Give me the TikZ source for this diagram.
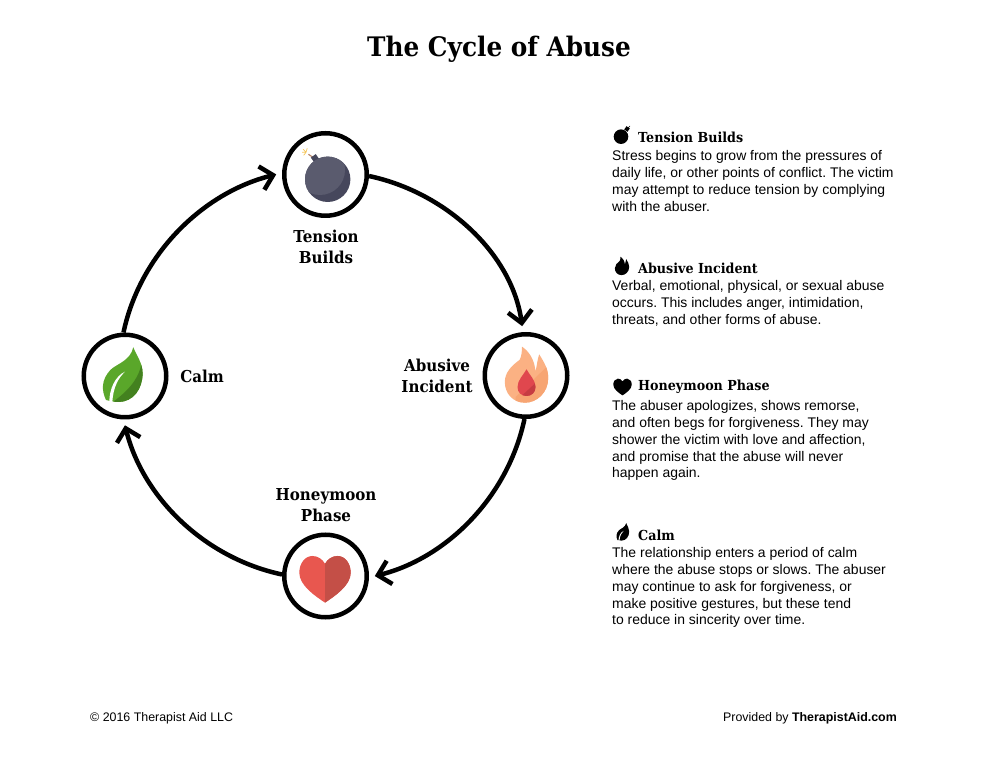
\documentclass[tikz,border=0pt]{standalone}
\usepackage{fontspec}
\setmainfont{Liberation Sans}
\newfontfamily\slabfont[FakeStretch=0.92]{DejaVu Serif}
\usetikzlibrary{arrows.meta}

\definecolor{bombdark}{HTML}{46475C}
\definecolor{bomblight}{HTML}{5A5B6E}
\definecolor{fusecol}{HTML}{B5866B}
\definecolor{sparkcol}{HTML}{F6C75B}
\definecolor{flameout}{HTML}{FBB183}
\definecolor{flameshade}{HTML}{F7A573}
\definecolor{dropred}{HTML}{E0474E}
\definecolor{dropshade}{HTML}{C63C42}
\definecolor{heartred}{HTML}{E8574F}
\definecolor{heartshade}{HTML}{C44F47}
\definecolor{leafgreen}{HTML}{5AA72A}
\definecolor{leafshade}{HTML}{43811F}

\newcommand{\flamepath}{(-1.5,-27.7) .. controls (-14,-27.7) and (-21.7,-18) .. (-21.7,-7) .. controls (-21.7,3) and (-14,10) .. (-7,15) .. controls (-5,18) and (-4.5,24) .. (-4.5,28.3) .. controls (2,24) and (8,16) .. (9,3.3) .. controls (10.5,10) and (11,16) .. (12.7,20.7) .. controls (18,12) and (21.7,6) .. (21.7,-3) .. controls (21.7,-18) and (10,-27.7) .. cycle}
\newcommand{\droppath}{(0,5.7) .. controls (-3,0) and (-9,-5) .. (-9,-12) .. controls (-9,-17.5) and (-5,-21) .. (0,-21) .. controls (5,-21) and (9,-17.5) .. (9,-12) .. controls (9,-5) and (3,0) .. cycle}
\newcommand{\heartpath}{(0,-23.3) .. controls (-10,-16.7) and (-25.7,-6) .. (-25.7,6.5) .. controls (-25.7,16) and (-20,23.3) .. (-12.5,23.3) .. controls (-7,23.3) and (-2.5,20) .. (0,15.5) .. controls (2.5,20) and (7,23.3) .. (12.5,23.3) .. controls (20,23.3) and (25.7,16) .. (25.7,6.5) .. controls (25.7,-6) and (10,-16.7) .. cycle}
\newcommand{\leafpath}{(10,27.7) .. controls (13,20) and (19.3,12) .. (19.3,1.7) .. controls (19.3,-14) and (10,-27) .. (-5,-27) .. controls (-9,-27) and (-13,-26) .. (-17.3,-25) .. controls (-22,-15) and (-22,-5) .. (-13,5) .. controls (-7,11) and (7,14) .. cycle}
\newcommand{\veinpath}{(-14,-27) .. controls (-14,-14) and (-8,-1) .. (1.7,3.3) .. controls (-5,-3) and (-10,-12) .. (-11,-27) -- cycle}

\tikzset{
  stage/.style={circle, draw, line width=4.5pt, minimum size=82.5pt, inner sep=0pt},
  cycle arrow/.style={line width=4.5pt, shorten >=6pt, looseness=.92, -{Straight Barb[length=12pt,width=24pt]}},
  stage label/.style={font=\slabfont\bfseries\fontsize{16.4}{21}\selectfont, align=center, inner sep=0pt},
  side head/.style={font=\slabfont\bfseries\fontsize{13.8}{15}\selectfont, anchor=west, inner sep=0pt},
  side text/.style={font=\frenchspacing\fontsize{13.95}{16.9}\selectfont, align=left, anchor=north west, inner sep=0pt},
  foot/.style={font=\frenchspacing\fontsize{12.4}{14}\selectfont, inner sep=0pt},
  bomb big/.pic={
    \draw[line width=1.2pt, draw=fusecol] (-14.3,21.7) -- (-19.3,25);
    \draw[line width=.7pt, draw=sparkcol] (-21.7,27) -- (-25.5,27) (-21.7,27) -- (-20.5,31) (-21.7,27) -- (-24.5,30) (-21.7,27) -- (-24,24);
    \fill[bombdark, rotate around={35:(-12.7,21)}] (-12.7,21) ++(-3,-3) rectangle ++(6,6);
    \fill[bombdark] (0,0) circle (22.7);
    \begin{scope}
      \clip (0,0) circle (22.7);
      \fill[bomblight] (-7.7,9.3) circle (25);
    \end{scope}
  },
  flame big/.pic={
    \fill[flameout] \flamepath;
    \begin{scope}
      \clip \flamepath;
      \fill[flameshade] (22,10) -- (-11,-22) -- (-11,-30) -- (30,-30) -- cycle;
    \end{scope}
    \fill[dropred] \droppath;
    \begin{scope}
      \clip \droppath;
      \fill[dropshade] (9,-8) -- (-5,-21) -- (10,-24) -- cycle;
    \end{scope}
  },
  heart big/.pic={
    \fill[heartred] \heartpath;
    \begin{scope}
      \clip \heartpath;
      \fill[heartshade] (0,-25) rectangle (27,25);
    \end{scope}
  },
  leaf big/.pic={
    \fill[leafgreen] \leafpath;
    \begin{scope}
      \clip \leafpath;
      \fill[leafshade] (18.3,11.7) .. controls (16,0) and (10,-12) .. (-10,-26.7) -- (-10,-30) -- (25,-30) -- (25,11.7) -- cycle;
    \end{scope}
    \fill[white] \veinpath;
  },
}

\begin{document}
\begin{tikzpicture}[x=1pt, y=1pt]
  \useasboundingbox[fill=white] (0,0) rectangle (1000,773);

  \node (title) [font=\slabfont\bfseries\fontsize{26.9}{30}\selectfont, inner sep=0pt] at (499,724) {The Cycle of Abuse};

  % stages
  \node (tension) [stage] at (325.5,598.5) {};
  \node (abusive) [stage] at (526,397.5) {};
  \node (honeymoon) [stage] at (325.5,197) {};
  \node (calm) [stage] at (125,397) {};

  \pic at (327.7,593.7) {bomb big};
  \pic at (526.5,398) {flame big};
  \pic at (325,193.7) {heart big};
  \pic at (123.3,398) {leaf big};

  \draw[cycle arrow] (tension.-2) to[out=-12, in=98] (abusive.94);
  \draw[cycle arrow] (abusive.-92) to[out=-102, in=14] (honeymoon.-2);
  \draw[cycle arrow] (honeymoon.178) to[out=168, in=-76] (calm.-92);
  \draw[cycle arrow] (calm.92) to[out=78, in=-166] (tension.178);

  \node (tensionlabel) [stage label] at (326,526.5) {Tension\\Builds};
  \node (abusivelabel) [stage label] at (437,397.5) {Abusive\\Incident};
  \node (honeymoonlabel) [stage label] at (326,268) {Honeymoon\\Phase};
  \node (calmlabel) [stage label] at (202,397) {Calm};

  % side icons
  \fill (621,636.3) circle (7.3);
  \fill[rotate around={-35:(627,644)}] (625,642) rectangle (629,646);
  \draw[line width=.6pt] (628,645) -- (630,647);
  \fill[shift={(622,507)}, scale=.33] \flamepath;
  \fill[shift={(622.5,386)}, scale=.36] \heartpath;
  \fill[shift={(623,241)}, scale=.32] \leafpath;
  \fill[white, shift={(623,241)}, scale=.32] \veinpath;

  % side texts
  \node (tensionhead) [side head] at (638,636) {Tension Builds};
  \node (tensiontext) [side text] at (612,623) {Stress begins to grow from the pressures of\\daily life, or other points of conflict. The victim\\may attempt to reduce tension by complying\\with the abuser.};
  \node (abusivehead) [side head] at (638,505) {Abusive Incident};
  \node (abusivetext) [side text] at (612,493) {Verbal, emotional, physical, or sexual abuse\\occurs. This includes anger, intimidation,\\threats, and other forms of abuse.};
  \node (honeymoonhead) [side head] at (638,386) {Honeymoon Phase};
  \node (honeymoontext) [side text] at (612,373) {The abuser apologizes, shows remorse,\\and often begs for forgiveness. They may\\shower the victim with love and affection,\\and promise that the abuse will never\\happen again.};
  \node (calmhead) [side head] at (638,238) {Calm};
  \node (calmtext) [side text] at (612,226) {The relationship enters a period of calm\\where the abuse stops or slows. The abuser\\may continue to ask for forgiveness, or\\make positive gestures, but these tend\\to reduce in sincerity over time.};

  \node (copyright) [foot, anchor=west] at (90,55) {© 2016 Therapist Aid LLC};
  \node (provided) [foot, anchor=east] at (897,55) {Provided by \textbf{TherapistAid.com}};
\end{tikzpicture}
\end{document}
